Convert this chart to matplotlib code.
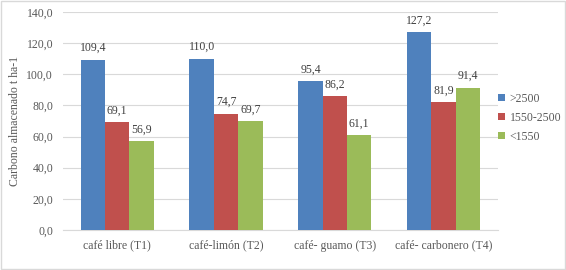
import matplotlib
matplotlib.use("Agg")
import matplotlib.pyplot as plt
import numpy as np
from matplotlib.patches import Rectangle

categories = ["café libre (T1)", "café-limón (T2)", "café- guamo (T3)", "café- carbonero (T4)"]
series_names = [">2500", "1550-2500", "<1550"]
s_gt2500 = [109.4, 110.0, 95.4, 127.2]
s_1550_2500 = [69.1, 74.7, 86.2, 81.9]
s_lt1550 = [56.9, 69.7, 61.1, 91.4]
colors = ["#4F81BD", "#C0504D", "#9BBB59"]
yticks = [0, 20, 40, 60, 80, 100, 120, 140]

plt.rcParams['font.family'] = ['Liberation Serif', 'DejaVu Serif']
txt = "#595959"

fig = plt.figure(figsize=(5.66, 2.70), dpi=100)
ax = fig.add_axes([0.111, 0.148, 0.769, 0.808])

x = np.arange(len(categories))
w = 0.224
for i, (vals, name, c) in enumerate(zip([s_gt2500, s_1550_2500, s_lt1550], series_names, colors)):
    pos = x + (i - 1) * w
    bars = ax.bar(pos, vals, w, color=c, label=name, zorder=3)
    for p, v in zip(pos, vals):
        ax.text(p, v + 3.5, f"{v:.1f}".replace(".", ","), ha="center", va="bottom",
                fontsize=8.5, color="#404040")

ax.set_xlim(-0.5, len(categories) - 0.5)
ax.set_ylim(0, 140)
ax.set_yticks(yticks)
ax.set_yticklabels([f"{t:.1f}".replace(".", ",") for t in yticks], fontsize=8.5, color=txt)
ax.set_xticks(x)
ax.set_xticklabels(categories, fontsize=8.5, color=txt)
ax.tick_params(axis="both", length=0, pad=7)
ax.grid(axis="y", color="#D9D9D9", linewidth=0.8, zorder=0)
for s in ["top", "right", "left"]:
    ax.spines[s].set_visible(False)
ax.spines["bottom"].set_color("#D9D9D9")
ax.set_ylabel("Carbono almacenado t ha-1", fontsize=8.5, color=txt, labelpad=4)

leg = ax.legend(loc="center left", bbox_to_anchor=(0.975, 0.515), frameon=False, fontsize=8.5,
                handlelength=0.6, handleheight=0.6, handletextpad=0.4, labelspacing=0.6)
for t in leg.get_texts():
    t.set_color(txt)

fig.patches.append(Rectangle((0.002, 0.004), 0.996, 0.992, transform=fig.transFigure,
                             fill=False, edgecolor="#D9D9D9", linewidth=1))
fig.savefig("out.png", dpi=100)
